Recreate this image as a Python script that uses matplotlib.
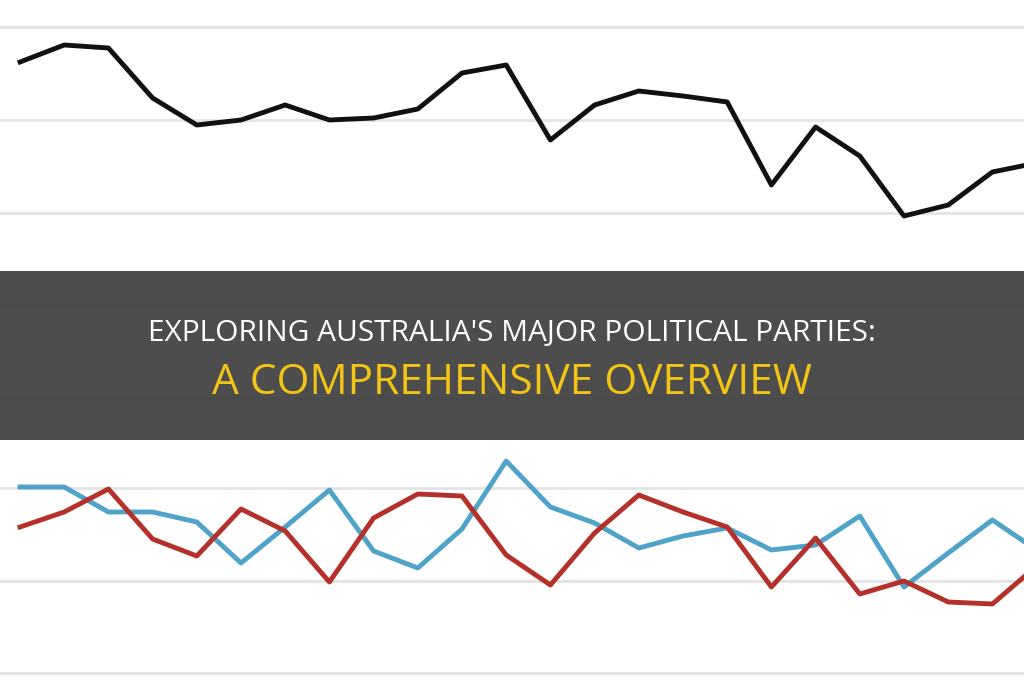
import matplotlib
matplotlib.use('Agg')
from matplotlib import pyplot as plt

STEP = 44.2  # horizontal spacing of points, pixels

# values (pixel heights, top = 0)
top_series = [62, 45, 48, 98, 125, 120, 105, 120, 118, 109, 73, 65, 140, 105, 91, 96,
              102, 185, 127, 156, 216, 205, 172, 163]
blue_series = [487, 487, 512, 512, 522, 563, 527, 490, 551, 568, 529, 461, 507, 523, 548,
               536, 528, 550, 545, 516, 587, 553, 520, 550]
red_series = [527, 512, 489, 539, 556, 509, 531, 582, 518, 494, 496, 555, 585, 533, 495,
              512, 527, 587, 538, 594, 581, 602, 604, 566]
grid_rows = [27, 120, 213, 305, 398, 488, 581, 673]

title_line1 = "EXPLORING AUSTRALIA'S MAJOR POLITICAL PARTIES:"
title_line2 = "A COMPREHENSIVE OVERVIEW"

fig = plt.figure(figsize=(10.24, 6.8), dpi=100)
ax = fig.add_axes([0, 0, 1, 1])
ax.set_xlim(-20 / STEP, (1024 - 20) / STEP)
ax.set_ylim(680, 0)
ax.axis('off')

for y in grid_rows:
    ax.axhline(y, color='#e3e3e3', linewidth=2, zorder=1)

xs = list(range(len(top_series)))
ax.plot(xs, top_series, color='#111111', linewidth=3.5, zorder=2)
ax.plot(xs, blue_series, color='#4fa3c8', linewidth=3.5, zorder=2)
ax.plot(xs, red_series, color='#b5302a', linewidth=3.5, zorder=3)

ax.axhspan(271, 440, color='#3a3a3a', alpha=0.9, zorder=4, linewidth=0)
ax.text(0.5, 1 - 333 / 680, title_line1, transform=ax.transAxes, ha='center', va='center',
        color='white', fontsize=21.5, family='Open Sans', zorder=5)
ax.text(0.5, 1 - 383 / 680, title_line2, transform=ax.transAxes, ha='center', va='center',
        color='#f2c416', fontsize=30.5, family='Open Sans', zorder=5)

plt.savefig('out.png', dpi=100)
